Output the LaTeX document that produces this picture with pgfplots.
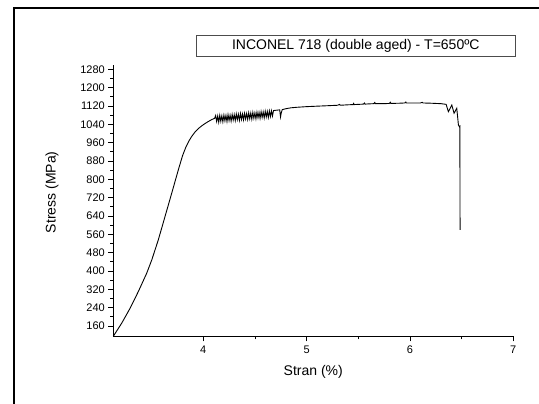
\documentclass[border=0pt]{standalone}
\usepackage{fontspec}
\setmainfont{Liberation Sans}
\usepackage{pgfplots}
\pgfplotsset{compat=1.18}
\begin{document}
\begin{tikzpicture}[x=1pt,y=1pt]
\path[use as bounding box] (0,0) rectangle (539,404);
% outer frame (left and top edges)
\draw[line width=2pt] (14.3,-5) -- (14.3,396.3) -- (545,396.3);
\begin{axis}[
  at={(113.3pt,67.7pt)}, anchor=south west,
  scale only axis, width=400pt, height=271.6pt,
  xmin=3.13, xmax=7, ymin=115, ymax=1300,
  axis lines=left,
  axis line style={-, line width=1.1pt},
  xtick={4,5,6,7}, ytick={160,240,...,1280},
  minor x tick num=1, minor y tick num=1,
  tick align=outside,
  major tick length=5pt, minor tick length=3pt,
  every tick/.style={black, line width=0.8pt},
  /pgf/number format/assume math mode=true,
  /pgf/number format/1000 sep={},
  tick label style={font=\fontsize{11}{13}\selectfont},
  xticklabel style={yshift=-1pt},
  label style={font=\fontsize{14}{16}\selectfont},
  xlabel={Stran (\%)},
  ylabel={Stress (MPa)},
  xlabel style={at={(axis description cs:0.5,-0.130)}, anchor=center},
  ylabel style={at={(axis description cs:-0.153,0.53)}, anchor=center},
  clip=false,
]
\addplot[black, line width=0.9pt] coordinates {
(3.13,115) (3.211,172) (3.292,237) (3.372,310) (3.453,390) (3.502,448)
(3.565,535) (3.63,637) (3.695,739) (3.759,841) (3.80,903) (3.83,938)
(3.86,966) (3.89,988) (3.92,1006) (3.955,1022) (3.985,1033) (4.02,1044)
(4.049,1052) (4.08,1060) (4.11,1066)
(4.12,1078) (4.13,1052) (4.14,1076) (4.15,1049) (4.16,1079) (4.17,1053)
(4.18,1077) (4.19,1051) (4.20,1080) (4.21,1055) (4.22,1079) (4.23,1052)
(4.24,1082) (4.25,1056) (4.26,1080) (4.27,1054) (4.28,1083) (4.29,1058)
(4.30,1082) (4.31,1056) (4.32,1085) (4.33,1060) (4.34,1084) (4.35,1057)
(4.36,1087) (4.37,1061) (4.38,1085) (4.39,1059) (4.40,1088) (4.41,1063)
(4.42,1087) (4.43,1061) (4.44,1090) (4.45,1064) (4.46,1089) (4.47,1062)
(4.48,1092) (4.49,1066) (4.50,1090) (4.51,1064) (4.52,1093) (4.53,1068)
(4.54,1092) (4.55,1066) (4.56,1095) (4.57,1070) (4.58,1094) (4.59,1068)
(4.60,1097) (4.61,1072) (4.62,1096) (4.63,1070) (4.64,1098) (4.65,1074)
(4.66,1099) (4.67,1076) (4.68,1100)
(4.70,1101) (4.74,1103) (4.748,1072) (4.755,1090) (4.765,1104)
(4.80,1108) (4.85,1112) (4.90,1114) (5.00,1117) (5.10,1119) (5.20,1121)
(5.30,1123) (5.32,1127) (5.325,1123) (5.40,1125) (5.45,1126) (5.455,1131)
(5.46,1126) (5.55,1128) (5.56,1133) (5.565,1128) (5.60,1129) (5.65,1130)
(5.66,1135) (5.665,1130) (5.75,1130) (5.80,1131) (5.81,1136) (5.815,1131)
(5.90,1132) (5.95,1133) (5.96,1137) (5.965,1133) (6.00,1133) (6.10,1133)
(6.12,1136) (6.125,1133) (6.20,1132) (6.30,1130) (6.35,1127) (6.372,1095)
(6.405,1124) (6.427,1088) (6.453,1110) (6.469,1037) (6.478,1030)
(6.483,1032) (6.485,579)
};
\end{axis}
\node[draw=black!70, line width=0.8pt, minimum width=318.3pt, minimum height=21.7pt, inner sep=0pt,
  font=\fontsize{14}{16}\selectfont] at (355.8,358.2) {INCONEL 718 (double aged) - T=650ºC};
\end{tikzpicture}
\end{document}
